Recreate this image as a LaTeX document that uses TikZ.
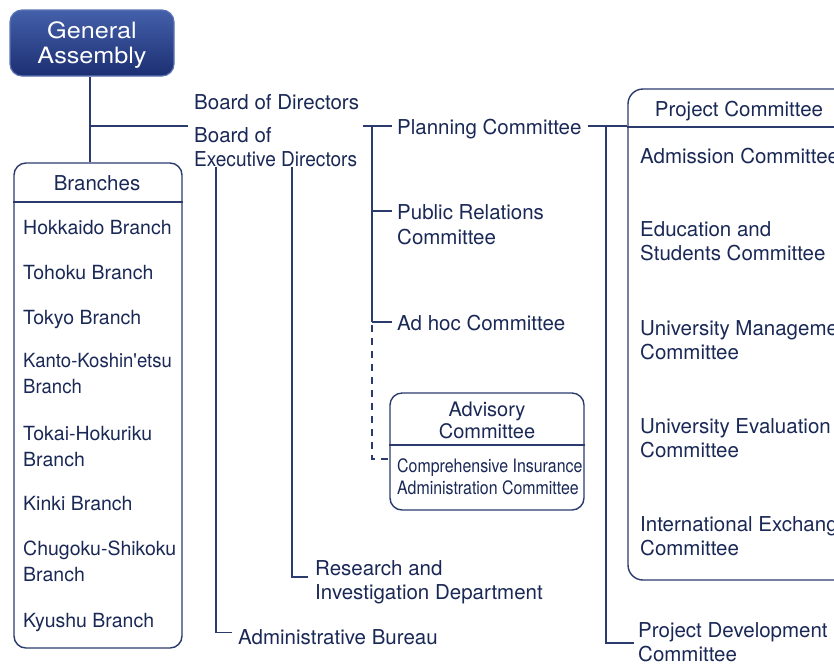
\documentclass[tikz,border=0pt]{standalone}
\usepackage{fontspec}
\setmainfont{TeX Gyre Heros}
\newfontfamily\widefont[FakeStretch=1.12]{TeX Gyre Heros}
\newfontfamily\narrowfont[FakeStretch=0.86]{TeX Gyre Heros}
\newfontfamily\slimfont[FakeStretch=0.95]{TeX Gyre Heros}
\newfontfamily\trimfont[FakeStretch=0.93]{TeX Gyre Heros}
\usetikzlibrary{calc}
\definecolor{ink}{HTML}{1A2856}
\definecolor{lineblue}{HTML}{2B3B6E}
\definecolor{gatop}{HTML}{4460AA}
\definecolor{gabot}{HTML}{1C2F72}
\definecolor{gaedge}{HTML}{5D74B4}
\begin{document}
\begin{tikzpicture}[x=1pt,y=-1pt,
  lbl/.style={anchor=base west, inner sep=0pt, text=ink, align=left,
    font=\fontsize{20.5}{24}\selectfont},
  blbl/.style={lbl, font=\fontsize{19.5}{26}\selectfont},
  clbl/.style={anchor=base, inner sep=0pt, text=ink, align=center},
  panel/.style={draw=lineblue, line width=1.4pt, rounded corners=12pt, inner sep=0pt},
  conn/.style={draw=lineblue, line width=1.4pt},
  dconn/.style={conn, dash pattern=on 7pt off 6pt}]
\useasboundingbox (0,0) rectangle (834,665);
\clip (0,0) rectangle (834,665);

% General Assembly
\node[draw=gaedge, line width=1.2pt, rounded corners=12pt, top color=gatop, bottom color=gabot,
  minimum width=164pt, minimum height=66pt, inner sep=0pt] (ga) at (92,43) {};
\node[anchor=base, inner sep=0pt, text=white, align=center,
  font=\widefont\fontsize{22.5}{25}\selectfont] (gatext) at (92,63) {General\\Assembly};

% Panels
\node[panel, minimum width=168pt, minimum height=485pt] (branches) at (98,405.5) {};
\draw[conn] (branches.west |- 0,202) -- (branches.east |- 0,202);
\node[panel, minimum width=194pt, minimum height=117pt] (advisory) at (487,451.5) {};
\draw[conn] (advisory.west |- 0,445) -- (advisory.east |- 0,445);
\node[panel, rounded corners=15pt, minimum width=221pt, minimum height=491pt] (project) at (738.5,334.5) {};
\draw[conn] (project.west |- 0,127) -- (project.east |- 0,127);

% Board texts
\node[lbl] (bod) at (194,109) {Board of Directors};
\node[lbl] (bed) at (194,166) {Board of\\{\trimfont Executive Directors}};

% Branches
\node[clbl, font=\fontsize{20.5}{24}\selectfont] (brhead) at (97,190) {Branches};
\node[blbl] (b1) at (23,234) {Hokkaido Branch};
\node[blbl] (b2) at (23,279) {Tohoku Branch};
\node[blbl] (b3) at (23,324) {Tokyo Branch};
\node[blbl, font=\slimfont\fontsize{19.5}{26}\selectfont] (b4) at (23,393) {Kanto-Koshin'etsu\\Branch};
\node[blbl] (b5) at (23,466) {Tokai-Hokuriku\\Branch};
\node[blbl] (b6) at (23,510) {Kinki Branch};
\node[blbl] (b7) at (23,581) {Chugoku-Shikoku\\Branch};
\node[blbl] (b8) at (23,627) {Kyushu Branch};

% Middle column
\node[lbl] (plan) at (397,134) {Planning Committee};
\node[lbl, font=\fontsize{20.5}{25}\selectfont] (pr) at (397,244) {Public Relations\\Committee};
\node[lbl] (adhoc) at (397,330) {Ad hoc Committee};
\node[clbl, font=\fontsize{20}{21.5}\selectfont] (advhead) at (487,438) {Advisory\\Committee};
\node[lbl, font=\narrowfont\fontsize{18.5}{21.5}\selectfont] (cia) at (397,494) {Comprehensive Insurance\\Administration Committee};
\node[lbl] (research) at (315,599) {Research and\\Investigation Department};
\node[lbl] (admin) at (238,644) {Administrative Bureau};

% Project committee column
\node[clbl, font=\fontsize{20.5}{24}\selectfont] (prjhead) at (739,116) {Project Committee};
\node[lbl] (p1) at (640,163) {Admission Committee};
\node[lbl] (p2) at (640,260) {Education and\\Students Committee};
\node[lbl] (p3) at (640,359) {University Management\\Committee};
\node[lbl] (p4) at (640,457) {University Evaluation\\Committee};
\node[lbl] (p5) at (640,555) {International Exchange\\Committee};
\node[lbl] (pdev) at (638,661) {Project Development\\Committee};

% Coordinates
\coordinate (trunk) at (90,126);
\coordinate (bodj) at (188,126);
\coordinate (pspine) at (372,126);
\coordinate (rspine) at (606,126);

% Connectors
\draw[conn] (ga.south -| trunk) -- (branches.north -| trunk);
\draw[conn] (trunk) -- (bodj);
\draw[conn] (bed.south -| 216,0) |- ($(admin.west)+(-6,-4)$);
\draw[conn] (bed.south -| 292,0) |- ($(research.west |- 0,577)+(-7,0)$);
\draw[conn] ($(plan.west |- pspine)+(-34,0)$) -- ($(plan.west |- pspine)+(-5,0)$);
\draw[conn] (pspine) -- (pspine |- 0,322);
\draw[conn] (pspine |- 0,211) -- ($(pr.west |- 0,211)+(-5,0)$);
\draw[conn] (pspine |- 0,322) -- ($(adhoc.west |- 0,322)+(-5,0)$);
\draw[dconn] (pspine |- 0,325) -- (pspine |- 0,459) -- (advisory.west |- 0,459);
\draw[conn] ($(plan.east |- pspine)+(6,0)$) -- (project.west |- pspine);
\draw[conn] (rspine) |- ($(pdev.west |- 0,643)+(-4,0)$);
\end{tikzpicture}
\end{document}
